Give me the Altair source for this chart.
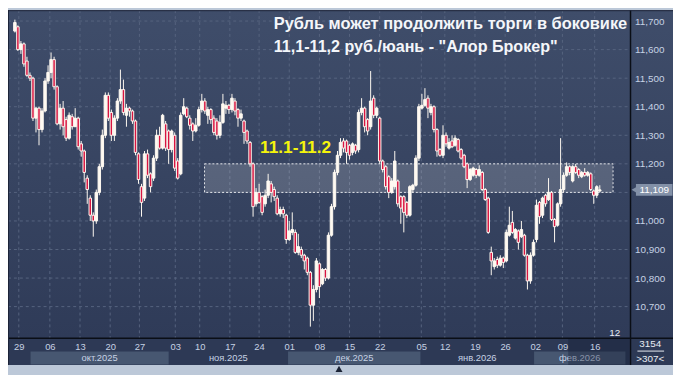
import json
import altair as alt
import pandas as pd

# ---- candles (CNY/RUB), one entry per candle, oldest first ----
opens = [11.665, 11.680, 11.600, 11.620, 11.560, 11.510, 11.500, 11.360, 11.395, 11.320,
         11.385, 11.490, 11.520, 11.565, 11.470, 11.340, 11.395, 11.355, 11.290, 11.365,
         11.330, 11.360, 11.270, 11.245, 11.150, 11.080, 11.020, 11.000, 11.100, 11.190,
         11.300, 11.440, 11.380, 11.300, 11.360, 11.420, 11.460, 11.370, 11.395, 11.385,
         11.350, 11.235, 11.120, 11.080, 11.235, 11.165, 11.150, 11.220, 11.300, 11.255,
         11.340, 11.315, 11.250, 11.300, 11.210, 11.165, 11.375, 11.395, 11.360, 11.340,
         11.315, 11.335, 11.390, 11.420, 11.370, 11.390, 11.360, 11.350, 11.300, 11.345,
         11.395, 11.405, 11.390, 11.420, 11.390, 11.360, 11.350, 11.315, 11.275, 11.200,
         11.060, 11.100, 11.085, 11.060, 11.090, 11.130, 11.110, 11.080, 11.025, 11.040,
         11.020, 10.935, 10.960, 10.960, 10.890, 10.900, 10.880, 10.870, 10.820, 10.705,
         10.760, 10.850, 10.780, 10.830, 10.800, 10.950, 11.050, 11.170, 11.230, 11.280,
         11.280, 11.265, 11.240, 11.265, 11.250, 11.380, 11.395, 11.355, 11.330, 11.430,
         11.370, 11.360, 11.210, 11.190, 11.155, 11.100, 11.120, 11.140, 11.085, 11.085,
         11.065, 11.020, 11.110, 11.125, 11.220, 11.395, 11.405, 11.430, 11.380, 11.400,
         11.320, 11.250, 11.230, 11.300, 11.255, 11.280, 11.265, 11.285, 11.250, 11.230,
         11.200, 11.145, 11.160, 11.180, 11.160, 11.170, 11.110, 11.080, 10.890, 10.840,
         10.865, 10.845, 10.870, 10.860, 10.950, 10.995, 10.940, 10.965, 10.945, 10.950,
         10.880, 10.790, 10.880, 10.935, 11.065, 11.020, 11.090, 11.075, 11.100, 11.005,
         10.985, 11.060, 11.110, 11.160, 11.190, 11.140, 11.190, 11.180, 11.155, 11.170,
         11.160, 11.165, 11.105, 11.090, 11.105]
highs = [11.705, 11.685, 11.630, 11.625, 11.575, 11.520, 11.505, 11.400, 11.400, 11.395,
         11.500, 11.545, 11.590, 11.575, 11.475, 11.410, 11.420, 11.365, 11.380, 11.375,
         11.395, 11.365, 11.280, 11.250, 11.160, 11.090, 11.030, 11.110, 11.200, 11.320,
         11.450, 11.450, 11.390, 11.370, 11.430, 11.530, 11.495, 11.410, 11.400, 11.390,
         11.355, 11.240, 11.130, 11.245, 11.250, 11.170, 11.230, 11.320, 11.330, 11.375,
         11.350, 11.320, 11.320, 11.310, 11.220, 11.380, 11.430, 11.400, 11.370, 11.345,
         11.360, 11.400, 11.445, 11.430, 11.400, 11.395, 11.370, 11.360, 11.370, 11.445,
         11.420, 11.410, 11.445, 11.430, 11.395, 11.390, 11.355, 11.320, 11.280, 11.205,
         11.115, 11.130, 11.090, 11.110, 11.165, 11.140, 11.120, 11.090, 11.050, 11.050,
         11.025, 11.000, 11.030, 10.970, 10.955, 10.910, 10.885, 10.875, 10.825, 10.775,
         10.870, 10.855, 10.835, 10.835, 10.960, 11.060, 11.180, 11.245, 11.290, 11.290,
         11.285, 11.270, 11.275, 11.270, 11.390, 11.430, 11.400, 11.360, 11.525, 11.440,
         11.400, 11.365, 11.215, 11.195, 11.160, 11.150, 11.245, 11.145, 11.090, 11.090,
         11.070, 11.125, 11.130, 11.230, 11.410, 11.445, 11.465, 11.440, 11.410, 11.405,
         11.325, 11.255, 11.335, 11.310, 11.290, 11.300, 11.300, 11.290, 11.255, 11.235,
         11.205, 11.185, 11.190, 11.185, 11.195, 11.175, 11.115, 11.085, 10.910, 10.870,
         10.875, 10.880, 10.875, 10.970, 11.050, 11.035, 10.975, 10.970, 11.000, 10.955,
         10.885, 10.890, 10.935, 11.075, 11.070, 11.085, 11.095, 11.150, 11.105, 11.010,
         11.065, 11.290, 11.170, 11.205, 11.195, 11.195, 11.200, 11.185, 11.175, 11.185,
         11.175, 11.170, 11.110, 11.125, 11.125]
lows = [11.660, 11.595, 11.585, 11.540, 11.505, 11.490, 11.350, 11.310, 11.265, 11.310,
        11.380, 11.480, 11.500, 11.460, 11.335, 11.320, 11.300, 11.280, 11.285, 11.320,
        11.330, 11.250, 11.225, 11.135, 11.060, 11.000, 10.945, 10.990, 11.090, 11.180,
        11.290, 11.350, 11.280, 11.280, 11.350, 11.410, 11.370, 11.330, 11.365, 11.340,
        11.230, 11.130, 11.015, 11.070, 11.150, 11.100, 11.140, 11.210, 11.250, 11.250,
        11.245, 11.200, 11.240, 11.175, 11.145, 11.160, 11.370, 11.360, 11.320, 11.280,
        11.310, 11.330, 11.380, 11.375, 11.340, 11.340, 11.300, 11.285, 11.290, 11.340,
        11.375, 11.375, 11.380, 11.370, 11.330, 11.350, 11.270, 11.270, 11.190, 11.015,
        11.050, 11.060, 11.020, 11.050, 11.080, 11.065, 11.070, 11.020, 11.015, 11.010,
        10.920, 10.930, 10.950, 10.885, 10.880, 10.870, 10.830, 10.810, 10.630, 10.650,
        10.750, 10.730, 10.775, 10.790, 10.795, 10.945, 11.040, 11.160, 11.220, 11.240,
        11.200, 11.215, 11.230, 11.235, 11.240, 11.370, 11.310, 11.300, 11.320, 11.360,
        11.360, 11.200, 11.170, 11.110, 11.080, 11.095, 11.110, 11.050, 10.990, 10.960,
        11.010, 11.015, 11.100, 11.120, 11.210, 11.390, 11.400, 11.360, 11.370, 11.310,
        11.225, 11.225, 11.220, 11.260, 11.250, 11.255, 11.260, 11.240, 11.215, 11.185,
        11.115, 11.140, 11.155, 11.150, 11.155, 11.105, 11.070, 10.955, 10.810, 10.830,
        10.835, 10.840, 10.835, 10.855, 10.945, 10.955, 10.935, 10.900, 10.940, 10.875,
        10.760, 10.780, 10.875, 10.925, 10.990, 11.010, 11.050, 11.070, 11.000, 10.925,
        10.980, 11.050, 11.100, 11.155, 11.160, 11.135, 11.165, 11.150, 11.150, 11.155,
        11.155, 11.105, 11.060, 11.080, 11.100]
closes = [11.695, 11.600, 11.620, 11.550, 11.510, 11.500, 11.360, 11.395, 11.320, 11.385,
          11.490, 11.520, 11.565, 11.470, 11.340, 11.395, 11.330, 11.290, 11.370, 11.330,
          11.360, 11.260, 11.245, 11.170, 11.110, 11.020, 11.000, 11.100, 11.190, 11.300,
          11.440, 11.360, 11.300, 11.360, 11.420, 11.460, 11.380, 11.395, 11.385, 11.350,
          11.240, 11.145, 11.065, 11.235, 11.160, 11.120, 11.220, 11.300, 11.255, 11.370,
          11.255, 11.250, 11.315, 11.185, 11.150, 11.370, 11.400, 11.365, 11.335, 11.315,
          11.335, 11.390, 11.420, 11.385, 11.390, 11.355, 11.310, 11.300, 11.345, 11.410,
          11.405, 11.390, 11.430, 11.385, 11.360, 11.375, 11.310, 11.280, 11.200, 11.050,
          11.100, 11.065, 11.030, 11.090, 11.140, 11.100, 11.085, 11.025, 11.040, 11.025,
          10.935, 10.965, 10.970, 10.890, 10.910, 10.880, 10.860, 10.820, 10.705, 10.760,
          10.860, 10.770, 10.830, 10.800, 10.950, 11.050, 11.170, 11.230, 11.275, 11.255,
          11.240, 11.230, 11.270, 11.245, 11.380, 11.395, 11.330, 11.315, 11.420, 11.370,
          11.395, 11.210, 11.180, 11.120, 11.100, 11.140, 11.210, 11.060, 11.045, 11.030,
          11.020, 11.120, 11.125, 11.220, 11.400, 11.405, 11.425, 11.395, 11.400, 11.320,
          11.245, 11.230, 11.300, 11.270, 11.275, 11.260, 11.290, 11.245, 11.220, 11.190,
          11.145, 11.180, 11.185, 11.160, 11.180, 11.110, 11.075, 10.960, 10.860, 10.860,
          10.845, 10.870, 10.855, 10.960, 10.985, 10.960, 10.970, 10.925, 10.970, 10.880,
          10.790, 10.880, 10.925, 11.055, 11.015, 11.080, 11.060, 11.100, 11.005, 10.980,
          11.060, 11.110, 11.160, 11.190, 11.170, 11.190, 11.170, 11.160, 11.170, 11.160,
          11.170, 11.110, 11.090, 11.120, 11.109]

# ---- axes: Monday labels (candle index of each), months, price levels ----
day_labels = ["29", "06", "13", "20", "27", "03", "10", "17", "24", "01",
              "08", "15", "22", "05", "12", "19", "26", "02", "09", "16"]
day_ticks = [1.3, 11.6, 21.6, 31.6, 41.3, 53.2, 61.3, 71.3, 81.0, 91.0,
             101.0, 111.0, 121.0, 134.8, 142.6, 152.6, 162.6, 172.6, 181.6, 192.3]
month_labels = ["окт.2025", "ноя.2025", "дек.2025", "янв.2026", "фев.2026"]
month_starts = [5.2, 51.0, 90.6, 134.5, 172.2]
month_ends = [51.0, 90.6, 134.5, 172.2, 202.5]
month_shaded = [True, False, True, False, True]
price_grid = [10.7, 10.8, 10.9, 11.0, 11.1, 11.2, 11.3, 11.4, 11.5, 11.6, 11.7]
# the 11,100 label is hidden under the last-price tag in the reference
price_labels = [10.7, 10.8, 10.9, 11.0, 11.2, 11.3, 11.4, 11.5, 11.6, 11.7]

# ---- annotations ----
title_lines = ["Рубль может продолжить торги в боковике",
               "11,1-11,2 руб./юань - \"Алор Брокер\""]
range_low, range_high = 11.1, 11.2
range_from, range_to = 62.9, 198.4
range_label = "11.1-11.2"
range_label_x, range_label_y = 81.3, 11.255
last_price = 11.109
info_top, info_bottom, info_small = "3154", ">307<", "12"

# ---- tables ----
candles = pd.DataFrame({"i": list(range(len(closes))), "o": opens, "h": highs,
                        "l": lows, "c": closes})
candles["fill"] = ["#d81440" if c < o else "#fffaf2" for o, c in zip(opens, closes)]
months = pd.DataFrame({"start": month_starts, "end": month_ends, "label": month_labels,
                       "shade": month_shaded})
months["mid"] = (months["start"] + months["end"]) / 2
days = pd.DataFrame({"t": day_ticks})
levels = pd.DataFrame({"p": price_grid})
rng = pd.DataFrame({"x0": [range_from], "x1": [range_to], "lo": [range_low], "hi": [range_high]})
lbl = pd.DataFrame({"x": [range_label_x], "y": [range_label_y], "t": [range_label]})
last = pd.DataFrame({"p": [last_price],
                     "t": [f"{last_price:.3f}".replace(".", ",")]})
one = pd.DataFrame({"k": [0]})

W, H = 630, 332
FONT = "Liberation Sans"
LABEL = "#c6d2e4"

xs = alt.Scale(domain=[-0.645, 202.55], nice=False, zero=False)
ys = alt.Scale(domain=[10.5893, 11.7381], nice=False, zero=False)

x_axis = alt.Axis(values=day_ticks,
                  labelExpr=f"{json.dumps(day_labels)}[indexof({json.dumps(day_ticks)}, datum.value)]",
                  grid=False, ticks=False, tickSize=0, domain=False, labelPadding=3,
                  labelColor=LABEL, labelFont=FONT, labelFontSize=9.5, labelFlush=False,
                  labelOverlap=False, title=None, zindex=1)
y_axis = alt.Axis(orient="right", values=price_labels,
                  labelExpr="replace(format(datum.value, '.3f'), '.', ',')",
                  grid=False, ticks=False, tickSize=0, domain=False, labelPadding=4,
                  labelColor=LABEL, labelFont=FONT, labelFontSize=10, labelFlush=False,
                  labelOverlap=False, title=None, zindex=1)

def X(f):
    return alt.X(f, type="quantitative", scale=xs, axis=x_axis)

def Y(f):
    return alt.Y(f, type="quantitative", scale=ys, axis=y_axis)

grad = alt.LinearGradient(gradient="linear", x1=0, x2=0, y1=0, y2=1,
                          stops=[alt.GradientStop(color="#3f4d6a", offset=0),
                                 alt.GradientStop(color="#2f3b58", offset=1)])

bg = alt.Chart(one).mark_rect(color=grad).encode(
    x=alt.value(0), x2=alt.value(673), y=alt.value(0), y2=alt.value(H))
bottom = alt.Chart(one).mark_rect(color="#2d3955").encode(
    x=alt.value(0), x2=alt.value(673), y=alt.value(H), y2=alt.value(359))

month_band = alt.Chart(months).transform_filter("datum.shade").mark_rect(color="#475771").encode(
    x=X("start"), x2="end", y=alt.value(345.5), y2=alt.value(358.7))
month_text = alt.Chart(months).mark_text(color=LABEL, font=FONT, fontSize=9.5,
                                         baseline="middle").encode(
    x=X("mid"), y=alt.value(352.5), text="label:N")

grid_h = alt.Chart(levels).mark_rule(color="#56647f", strokeDash=[3, 3], strokeWidth=1).encode(
    y=Y("p"), x=alt.value(0), x2=alt.value(W))
grid_v = alt.Chart(days).mark_rule(color="#56647f", strokeDash=[3, 3], strokeWidth=1).encode(
    x=X("t"), y=alt.value(0), y2=alt.value(H))

band = alt.Chart(rng).mark_rect(fill="#ffffff", fillOpacity=0.17, stroke="#ffffff",
                                strokeDash=[2, 2], strokeWidth=1, strokeOpacity=0.85).encode(
    x=X("x0"), x2="x1", y=Y("lo"), y2="hi")

wicks = alt.Chart(candles).mark_rule(color="#fffaf2", strokeWidth=1).encode(
    x=X("i"), y=Y("l"), y2="h")
bodies = alt.Chart(candles).mark_bar(size=2.5, stroke="#fffaf2", strokeWidth=1).encode(
    x=X("i"), y=Y("o"), y2="c", fill=alt.Fill("fill:N", scale=None))

band_text = alt.Chart(lbl).mark_text(color="#f4f40c", font=FONT, fontSize=17.5,
                                     fontWeight="bold", align="left", baseline="middle").encode(
    x=X("x"), y=Y("y"), text="t:N")

title1 = alt.Chart(one).mark_text(text=title_lines[0], color="#f4f6fa", font=FONT, fontSize=16.6,
                                  fontWeight="bold", align="left", baseline="middle").encode(
    x=alt.value(269), y=alt.value(14))
title2 = alt.Chart(one).mark_text(text=title_lines[1], color="#f4f6fa", font=FONT, fontSize=16.3,
                                  fontWeight="bold", align="left", baseline="middle").encode(
    x=alt.value(269), y=alt.value(37))

tag = alt.Chart(last).mark_tick(orient="horizontal", size=37, thickness=12,
                                color="#8391a8", opacity=1).encode(
    x=alt.value(654), y=Y("p"))
tag_tip = alt.Chart(last).mark_point(shape="triangle-left", filled=True, size=45,
                                     color="#8391a8", opacity=1).encode(
    x=alt.value(634), y=Y("p"))
tag_text = alt.Chart(last).mark_text(color="#ffffff", font=FONT, fontSize=10,
                                     baseline="middle").encode(
    x=alt.value(654), y=Y("p"), text="t:N")

overlay = alt.Chart(one).mark_rect(color="#101a30", opacity=0.35).encode(
    x=alt.value(567), x2=alt.value(629), y=alt.value(H), y2=alt.value(359))

line_v = alt.Chart(one).mark_rule(color="#0a0e16", strokeWidth=1.5).encode(
    x=alt.value(W), y=alt.value(0), y2=alt.value(359))
line_h = alt.Chart(one).mark_rule(color="#0a0e16", strokeWidth=1.5).encode(
    x=alt.value(0), x2=alt.value(673), y=alt.value(H))
line_l = alt.Chart(one).mark_rule(color="#1c2438", strokeWidth=1).encode(
    x=alt.value(0.5), y=alt.value(0), y2=alt.value(359))
line_t = alt.Chart(one).mark_rule(color="#1c2438", strokeWidth=1).encode(
    x=alt.value(0), x2=alt.value(673), y=alt.value(0.5))
info_line = alt.Chart(one).mark_rule(color="#e8ecf2", strokeWidth=1).encode(
    x=alt.value(637), x2=alt.value(664), y=alt.value(345))
info1 = alt.Chart(one).mark_text(text=info_top, color="#e8ecf2", font=FONT, fontSize=10,
                                 baseline="middle").encode(x=alt.value(650), y=alt.value(338))
info2 = alt.Chart(one).mark_text(text=info_bottom, color="#e8ecf2", font=FONT, fontSize=10,
                                 baseline="middle").encode(x=alt.value(650), y=alt.value(353))
info3 = alt.Chart(one).mark_text(text=info_small, color="#e8ecf2", font=FONT, fontSize=10,
                                 baseline="middle").encode(x=alt.value(614), y=alt.value(327))
tri = alt.Chart(one).mark_point(shape="triangle-up", filled=True, size=50, color="#1b2335",
                                opacity=1).encode(x=alt.value(335), y=alt.value(363))

chart = alt.layer(
    bg, bottom, month_band, month_text, grid_h, grid_v, band, wicks, bodies, band_text,
    title1, title2, tag, tag_tip, tag_text, overlay, line_v, line_h, line_l, line_t,
    info_line, info1, info2, info3, tri
).properties(
    width=W, height=H,
    padding={"left": 0, "top": 0, "right": 43, "bottom": 35},
    autosize=alt.AutoSizeParams(type="none"),
    background="#bcc8d8",
).configure_view(strokeWidth=0)

chart.save("out.html", embed_options={"renderer": "svg", "actions": False})
